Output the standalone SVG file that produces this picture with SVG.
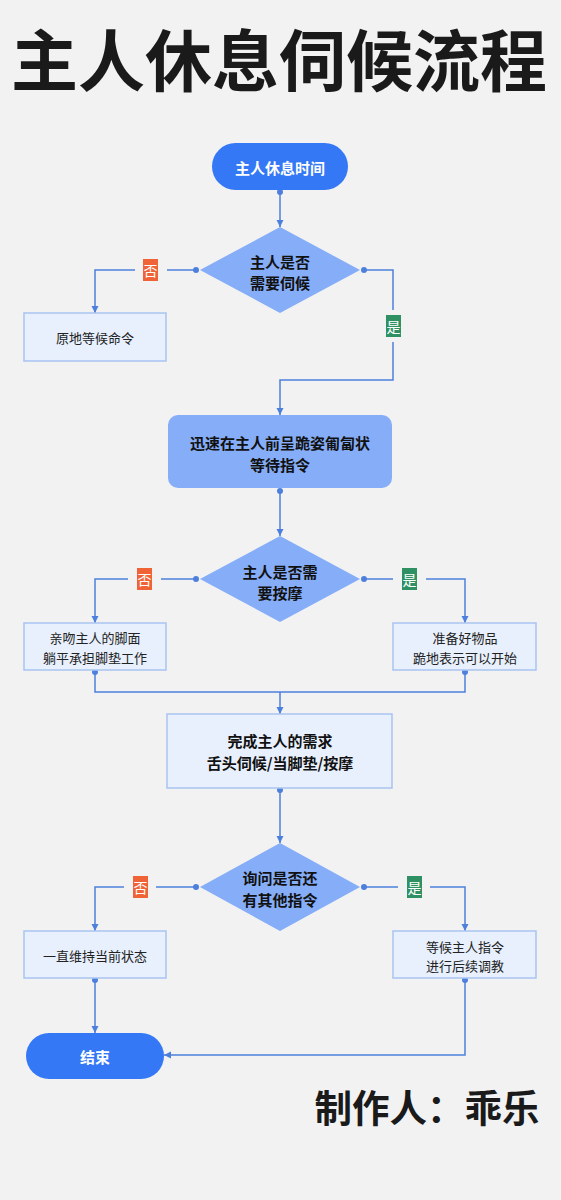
<svg xmlns="http://www.w3.org/2000/svg" width="561" height="1200" viewBox="0 0 561 1200">
<style>
text{font-family:"Noto Sans CJK SC","Noto Sans",sans-serif;text-anchor:middle;dominant-baseline:central}
.title{font-size:67px;font-weight:700;fill:#1a1a1a;dominant-baseline:auto}
.footer{font-size:37.5px;font-weight:700;fill:#1a1a1a;dominant-baseline:auto}
.term{fill:#3478f6}
.termt{font-size:15px;font-weight:700;fill:#ffffff}
.dec{fill:#86adf8}
.dect{font-size:15px;font-weight:700;fill:#111111}
.box{fill:#e8f0fd;stroke:#a9c3ef;stroke-width:1.5}
.boxt{font-size:13px;fill:#222222}
.boxb{font-size:15px;font-weight:700;fill:#111111}
.ln{fill:none;stroke:#4d80dc;stroke-width:1.5}
.dot{fill:#4d80dc}
.no{fill:#ef6337}
.yes{fill:#2f9063}
.lbt{font-size:14px;fill:#ffffff}
</style>
<defs>
<marker id="arr" markerUnits="userSpaceOnUse" markerWidth="8" markerHeight="8" refX="7" refY="4" orient="auto">
<path d="M0,0.5 L7,4 L0,7.5 Z" fill="#4d80dc"/>
</marker>
</defs>
<rect x="0" y="0" width="561" height="1200" fill="#f2f2f2"/>
<text class="title" x="279" y="86">主人休息伺候流程</text>

<g id="connectors">
<line class="ln" x1="280" y1="192" x2="280" y2="227" marker-end="url(#arr)"/>
<circle class="dot" cx="280" cy="192" r="3"/>
<polyline class="ln" points="196,270 167,270"/>
<polyline class="ln" points="135,270 95,270 95,313" marker-end="url(#arr)"/>
<circle class="dot" cx="196" cy="270" r="3"/>
<polyline class="ln" points="364,270 393,270 393,310"/>
<polyline class="ln" points="393,342 393,380 280,380 280,415" marker-end="url(#arr)"/>
<circle class="dot" cx="364" cy="270" r="3"/>
<line class="ln" x1="280" y1="491" x2="280" y2="536" marker-end="url(#arr)"/>
<circle class="dot" cx="280" cy="491" r="3"/>
<polyline class="ln" points="196,579 161,579"/>
<polyline class="ln" points="128,579 95,579 95,623" marker-end="url(#arr)"/>
<circle class="dot" cx="196" cy="579" r="3"/>
<polyline class="ln" points="364,579 393,579"/>
<polyline class="ln" points="426,579 465,579 465,623" marker-end="url(#arr)"/>
<circle class="dot" cx="364" cy="579" r="3"/>
<polyline class="ln" points="95,672 95,692 465,692 465,672"/>
<circle class="dot" cx="95" cy="672" r="3"/>
<circle class="dot" cx="465" cy="672" r="3"/>
<line class="ln" x1="280" y1="692" x2="280" y2="714" marker-end="url(#arr)"/>
<line class="ln" x1="280" y1="790" x2="280" y2="843" marker-end="url(#arr)"/>
<circle class="dot" cx="280" cy="790" r="3"/>
<polyline class="ln" points="196,887 156,887"/>
<polyline class="ln" points="124,887 95,887 95,931" marker-end="url(#arr)"/>
<circle class="dot" cx="196" cy="887" r="3"/>
<polyline class="ln" points="364,887 398,887"/>
<polyline class="ln" points="430,887 465,887 465,931" marker-end="url(#arr)"/>
<circle class="dot" cx="364" cy="887" r="3"/>
<line class="ln" x1="95" y1="980" x2="95" y2="1033" marker-end="url(#arr)"/>
<circle class="dot" cx="95" cy="980" r="3"/>
<polyline class="ln" points="465,980 465,1055 164,1055" marker-end="url(#arr)"/>
<circle class="dot" cx="465" cy="980" r="3"/>
<rect class="no" x="143" y="259" width="15" height="22"/>
<text class="lbt" x="150.5" y="270">否</text>
<rect class="yes" x="386" y="315" width="15" height="22"/>
<text class="lbt" x="393.5" y="326">是</text>
<rect class="no" x="137" y="568" width="15" height="22"/>
<text class="lbt" x="144.5" y="579">否</text>
<rect class="yes" x="402" y="568" width="15" height="22"/>
<text class="lbt" x="409.5" y="579">是</text>
<rect class="no" x="133" y="876" width="15" height="22"/>
<text class="lbt" x="140.5" y="887">否</text>
<rect class="yes" x="407" y="876" width="15" height="22"/>
<text class="lbt" x="414.5" y="887">是</text>
</g>

<g id="start">
<rect class="term" x="212" y="143" width="136" height="47" rx="23.5"/>
<text class="termt" x="280" y="167">主人休息时间</text>
</g>
<g id="decision1">
<polygon class="dec" points="280,227 360,270 280,313 200,270"/>
<text class="dect" x="280" y="261">主人是否</text>
<text class="dect" x="280" y="282">需要伺候</text>
</g>
<g id="wait">
<rect class="box" x="24" y="313" width="142" height="48"/>
<text class="boxt" x="95" y="337">原地等候命令</text>
</g>
<g id="kneel">
<rect class="dec" x="168" y="415" width="224" height="73" rx="10"/>
<text class="dect" x="280" y="442">迅速在主人前呈跪姿匍匐状</text>
<text class="dect" x="280" y="464">等待指令</text>
</g>
<g id="decision2">
<polygon class="dec" points="280,536 360,579 280,622 200,579"/>
<text class="dect" x="280" y="571">主人是否需</text>
<text class="dect" x="280" y="592">要按摩</text>
</g>
<g id="kiss">
<rect class="box" x="24" y="623" width="142" height="47"/>
<text class="boxt" x="95" y="637">亲吻主人的脚面</text>
<text class="boxt" x="95" y="657">躺平承担脚垫工作</text>
</g>
<g id="prepare">
<rect class="box" x="393" y="623" width="143" height="47"/>
<text class="boxt" x="465" y="637">准备好物品</text>
<text class="boxt" x="465" y="657">跪地表示可以开始</text>
</g>
<g id="complete">
<rect class="box" x="167" y="714" width="225" height="74"/>
<text class="boxb" x="280" y="740">完成主人的需求</text>
<text class="boxb" x="280" y="762">舌头伺候/当脚垫/按摩</text>
</g>
<g id="decision3">
<polygon class="dec" points="280,843 360,887 280,931 200,887"/>
<text class="dect" x="280" y="877">询问是否还</text>
<text class="dect" x="280" y="899">有其他指令</text>
</g>
<g id="keep">
<rect class="box" x="24" y="931" width="142" height="47"/>
<text class="boxt" x="95" y="955">一直维持当前状态</text>
</g>
<g id="await">
<rect class="box" x="393" y="931" width="143" height="47"/>
<text class="boxt" x="465" y="946">等候主人指令</text>
<text class="boxt" x="465" y="965">进行后续调教</text>
</g>
<g id="end">
<rect class="term" x="26" y="1033" width="138" height="46" rx="23"/>
<text class="termt" x="95" y="1056">结束</text>
</g>
<text class="footer" x="427" y="1122">制作人：乖乐</text>
</svg>
